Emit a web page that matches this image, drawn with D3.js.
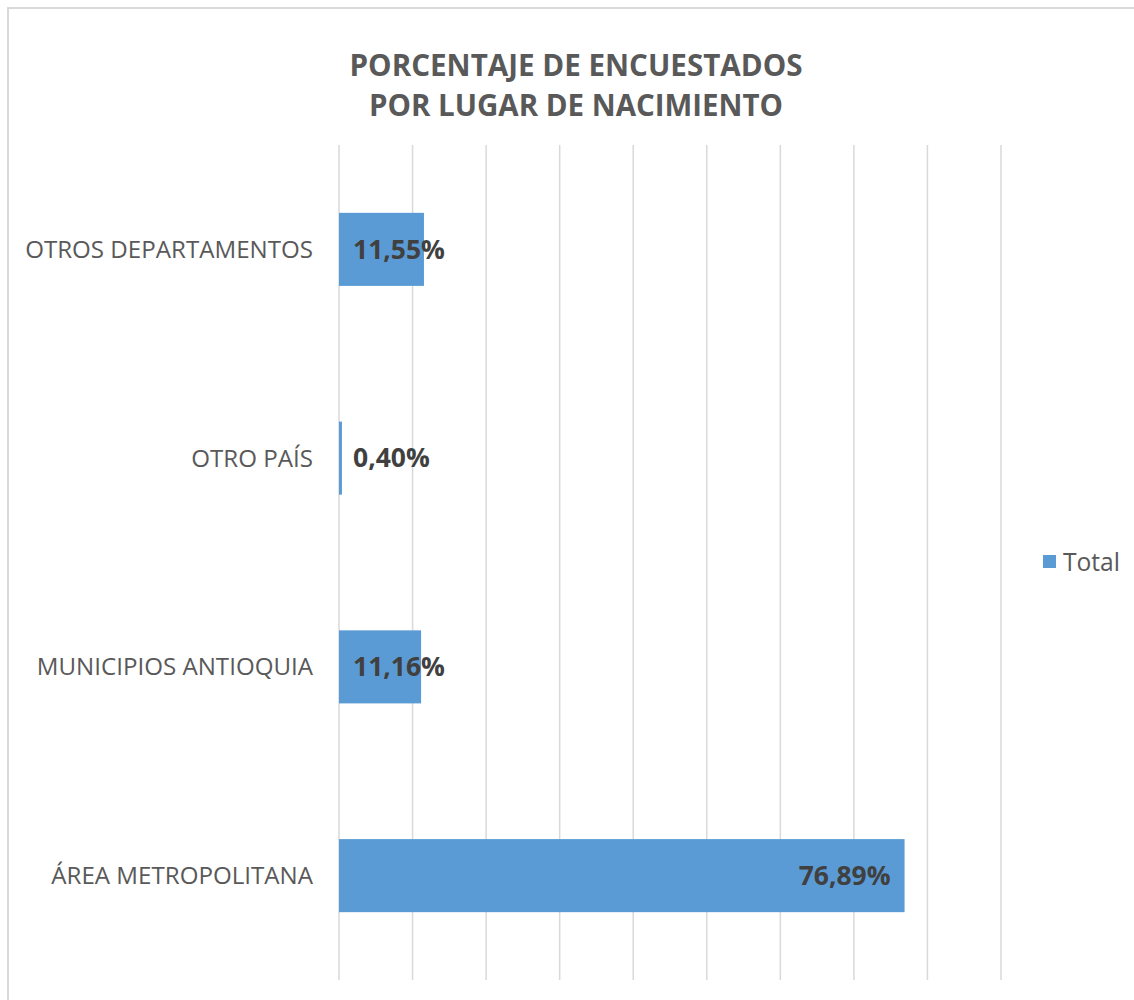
<!DOCTYPE html>
<html>
<head>
<meta charset="utf-8">
<script src="https://cdn.jsdelivr.net/npm/d3@7/dist/d3.min.js"></script>
<style>
  body { margin: 0; background: #fff; }
  text { font-family: "Open Sans", "Liberation Sans", sans-serif; }
</style>
</head>
<body>
<svg id="chart" width="1134" height="1000"></svg>
<script>
const titleLines = ["PORCENTAJE DE ENCUESTADOS", "POR LUGAR DE NACIMIENTO"];
const categories = ["OTROS DEPARTAMENTOS", "OTRO PAÍS", "MUNICIPIOS ANTIOQUIA", "ÁREA METROPOLITANA"];
const values = [11.55, 0.40, 11.16, 76.89];
const valueLabels = ["11,55%", "0,40%", "11,16%", "76,89%"];
const seriesName = "Total";
const xTicks = [0, 10, 20, 30, 40, 50, 60, 70, 80, 90];

const svg = d3.select("#chart");
const W = 1134, H = 1000;
const plotTop = 145, plotBottom = 980;

// chart frame (only top and left edges visible)
svg.append("rect").attr("x", 8).attr("y", 8).attr("width", W + 20).attr("height", H + 20)
  .attr("fill", "#fff").attr("stroke", "#d9d9d9").attr("stroke-width", 2);

const x = d3.scaleLinear().domain([0, 90]).range([339, 1001]);
const y = d3.scaleBand().domain(categories).range([plotTop, plotBottom]).paddingInner(0.65).paddingOuter(0.325);

function fit(sel, target) {
  const node = sel.node();
  const fs = parseFloat(sel.attr("font-size"));
  const w = node.getComputedTextLength();
  sel.attr("font-size", (fs * target / w).toFixed(2));
}

// gridlines
svg.append("g").selectAll("line").data(xTicks).join("line")
  .attr("x1", d => x(d)).attr("x2", d => x(d))
  .attr("y1", plotTop).attr("y2", plotBottom)
  .attr("stroke", "#d9d9d9").attr("stroke-width", 1.5);

// title (condensed to mimic Calibri proportions)
const tg = svg.append("g");
tg.append("text").attr("x", 576).attr("y", 76).attr("text-anchor", "middle")
  .attr("font-size", 30).attr("font-weight", "bold").attr("fill", "#595959")
  .attr("textLength", 453).attr("lengthAdjust", "spacingAndGlyphs").text(titleLines[0]);
tg.append("text").attr("x", 576).attr("y", 116).attr("text-anchor", "middle")
  .attr("font-size", 30).attr("font-weight", "bold").attr("fill", "#595959")
  .attr("textLength", 414).attr("lengthAdjust", "spacingAndGlyphs").text(titleLines[1]);

// bars
svg.append("g").selectAll("rect").data(values).join("rect")
  .attr("x", x(0)).attr("y", (d, i) => y(categories[i]))
  .attr("width", d => x(d) - x(0)).attr("height", y.bandwidth())
  .attr("fill", "#5B9BD5");

// category labels
const cl = svg.append("g").selectAll("text").data(categories).join("text")
  .attr("x", 313).attr("y", d => y(d) + y.bandwidth() / 2)
  .attr("dy", "0.35em").attr("text-anchor", "end")
  .attr("font-size", 20).attr("fill", "#595959").text(d => d);
const probe = cl.filter((d, i) => i === 0);
fit(probe, 288);
cl.attr("font-size", probe.attr("font-size"));

// value labels
const vl = svg.append("g").selectAll("text").data(values).join("text")
  .attr("y", (d, i) => y(categories[i]) + y.bandwidth() / 2)
  .attr("dy", "0.35em").attr("font-size", 22).attr("font-weight", "bold")
  .attr("fill", "#404040").text((d, i) => valueLabels[i]);
const vprobe = vl.filter((d, i) => i === 0);
vprobe.attr("x", 0);
fit(vprobe, 92);
vl.attr("font-size", vprobe.attr("font-size"));
vl.each(function(d) {
  const s = d3.select(this);
  const w = this.getComputedTextLength();
  if (x(d) - x(0) > w + 30) {
    s.attr("x", x(d) - 14).attr("text-anchor", "end");
  } else {
    s.attr("x", x(0) + 14).attr("text-anchor", "start");
  }
});

// legend
const lg = svg.append("g");
lg.append("rect").attr("x", 1043).attr("y", 555).attr("width", 13).attr("height", 13).attr("fill", "#5B9BD5");
const lt = lg.append("text").attr("x", 1063).attr("y", 562).attr("dy", "0.35em")
  .attr("font-size", 20).attr("fill", "#595959").text(seriesName);
fit(lt, 57);
</script>
</body>
</html>
